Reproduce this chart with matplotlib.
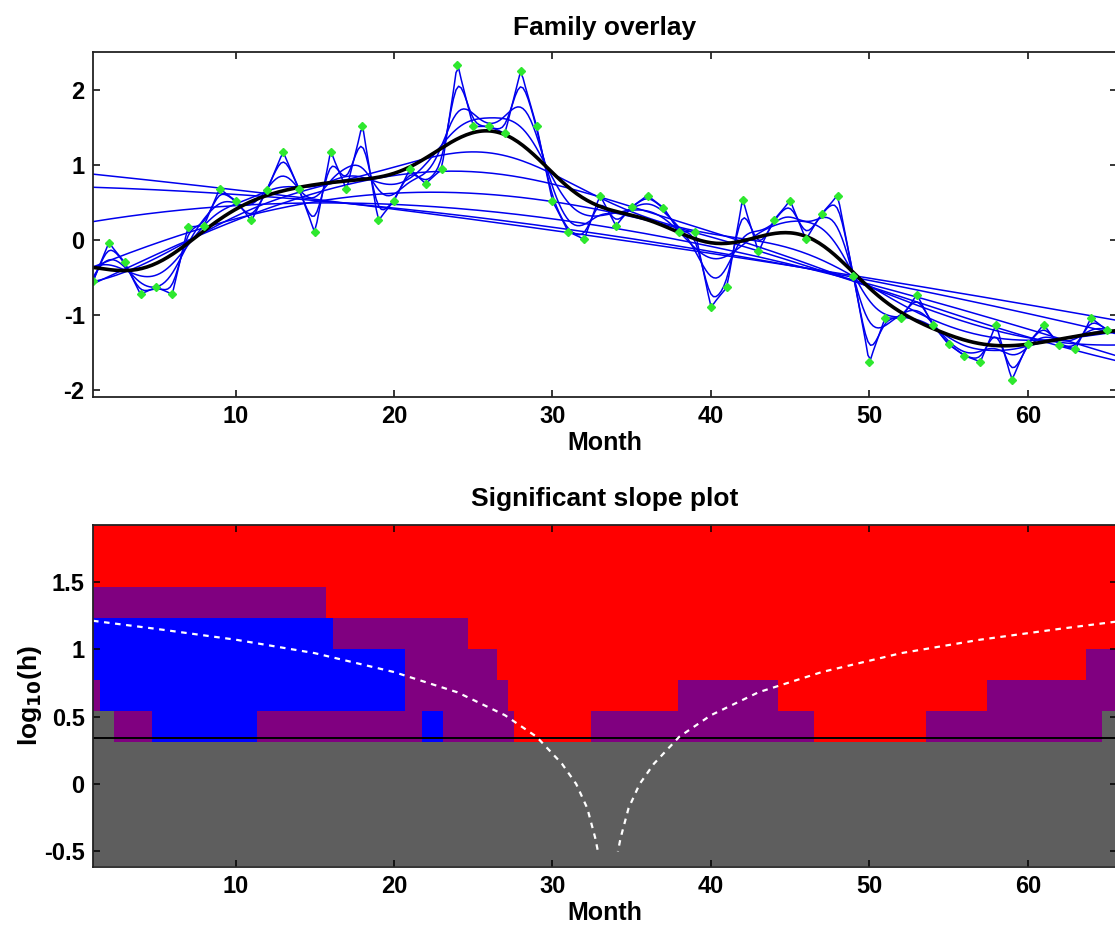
import numpy as np
import matplotlib
matplotlib.use('Agg')
import matplotlib.pyplot as plt

plt.rcParams['font.family'] = ['Liberation Sans', 'DejaVu Sans']
plt.rcParams['font.weight'] = 'bold'
plt.rcParams['axes.unicode_minus'] = False

# data
months = np.arange(1, 67)
values = [-0.55, -0.04, -0.30, -0.72, -0.63, -0.72, 0.17, 0.19, 0.68, 0.52,
          0.26, 0.67, 1.17, 0.68, 0.10, 1.17, 0.68, 1.52, 0.26, 0.52,
          0.94, 0.75, 0.94, 2.33, 1.51, 1.51, 1.42, 2.25, 1.51, 0.52,
          0.11, 0.01, 0.59, 0.19, 0.44, 0.59, 0.43, 0.11, 0.11, -0.89,
          -0.63, 0.53, -0.15, 0.27, 0.52, 0.01, 0.35, 0.59, -0.48, -1.62,
          -1.04, -1.04, -0.73, -1.13, -1.39, -1.54, -1.62, -1.13, -1.86, -1.38,
          -1.13, -1.40, -1.45, -1.04, -1.20, -1.28]

# bandwidth family (log10 h), one row of the slope map per bandwidth
log_h = [-0.495, -0.265, -0.035, 0.195, 0.425, 0.655, 0.885, 1.115, 1.345, 1.575, 1.805]
highlight = 0.425
h_min_line = 0.34

# slope map segments per bandwidth row: (from month, to month, class)
segments = {
    -0.495: [(1, 66, 'sparse')],
    -0.265: [(1, 66, 'sparse')],
    -0.035: [(1, 66, 'sparse')],
    0.195: [(1, 66, 'sparse')],
    0.425: [(1, 2.3, 'sparse'), (2.3, 4.7, 'ns'), (4.7, 11.35, 'inc'), (11.35, 21.75, 'ns'),
            (21.75, 23.1, 'inc'), (23.1, 27.55, 'ns'), (27.55, 32.45, 'dec'), (32.45, 46.5, 'ns'),
            (46.5, 53.6, 'dec'), (53.6, 64.7, 'ns'), (64.7, 66, 'sparse')],
    0.655: [(1, 1.45, 'ns'), (1.45, 20.7, 'inc'), (20.7, 27.2, 'ns'), (27.2, 37.95, 'dec'),
            (37.95, 44.25, 'ns'), (44.25, 57.4, 'dec'), (57.4, 66, 'ns')],
    0.885: [(1, 20.7, 'inc'), (20.7, 26.5, 'ns'), (26.5, 63.7, 'dec'), (63.7, 66, 'ns')],
    1.115: [(1, 16.15, 'inc'), (16.15, 24.7, 'ns'), (24.7, 66, 'dec')],
    1.345: [(1, 15.7, 'ns'), (15.7, 66, 'dec')],
    1.575: [(1, 66, 'dec')],
    1.805: [(1, 66, 'dec')],
}
class_colors = {'inc': '#0000ff', 'dec': '#ff0000', 'ns': '#800080', 'sparse': '#5e5e5e'}

# effective window (centre +/- 2h)
win_left_x = [1.0, 5.0, 10.0, 15.0, 20.0, 24.0, 27.0, 29.0, 30.6, 31.5, 32.2, 32.7, 32.87]
win_right_x = [66.0, 62.0, 57.0, 52.0, 47.0, 43.0, 40.0, 38.0, 36.4, 35.5, 34.8, 34.3, 34.13]
win_y = [1.21, 1.15, 1.07, 0.97, 0.83, 0.68, 0.51, 0.35, 0.15, 0.0, -0.18, -0.40, -0.50]


def local_linear(x, y, grid, h):
    out = []
    for x0 in grid:
        d = x - x0
        w = np.exp(-0.5 * (d / h) ** 2)
        s0, s1, s2 = w.sum(), (w * d).sum(), (w * d * d).sum()
        t0, t1 = (w * y).sum(), (w * d * y).sum()
        out.append((s2 * t0 - s1 * t1) / (s0 * s2 - s1 * s1))
    return np.array(out)


x = months.astype(float)
y = np.array(values)
grid = np.linspace(1, 66, 401)

fig = plt.figure(figsize=(11.15, 9.25), dpi=100)
W, H = 1115.0, 925.0
left = 93 / W
width = (1116.5 - 93) / W
ax1 = fig.add_axes([left, 1 - 397 / H, width, (397 - 52) / H])
ax2 = fig.add_axes([left, 1 - 867 / H, width, (867 - 525) / H])

# family overlay
for lh in log_h:
    ax1.plot(grid, local_linear(x, y, grid, 10 ** lh), color='#0000ee', lw=1.1)
ax1.plot(grid, local_linear(x, y, grid, 10 ** highlight), color='black', lw=2.6)
ax1.plot(months, values, ls='none', marker='D', ms=4.5, color='#2ee82e', mec='#2ee82e')
ax1.set_xlim(1, 65.6)
ax1.set_ylim(-2.09, 2.5)
ax1.set_yticks([-2, -1, 0, 1, 2])
ax1.set_title('Family overlay', fontsize=19, fontweight='bold', pad=12)

# significant slope map
step = log_h[1] - log_h[0]
for lh in log_h:
    for a, b, c in segments[lh]:
        ax2.broken_barh([(a, b - a)], (lh - step / 2, step), facecolors=class_colors[c],
                        edgecolor='none')
ax2.axhline(h_min_line, color='black', lw=1.4)
ax2.plot(win_left_x, win_y, color='white', ls=(0, (2.5, 2.5)), lw=1.6)
ax2.plot(win_right_x, win_y, color='white', ls=(0, (2.5, 2.5)), lw=1.6)
ax2.set_xlim(1, 65.6)
ax2.set_ylim(-0.615, 1.92)
ax2.set_yticks([-0.5, 0, 0.5, 1, 1.5])
ax2.set_yticklabels(['-0.5', '0', '0.5', '1', '1.5'])
ax2.set_ylabel('log$_{\\mathbf{10}}$(h)', fontsize=19, fontweight='bold', labelpad=0)
ax2.set_title('Significant slope plot', fontsize=19, fontweight='bold', pad=14)

for ax in (ax1, ax2):
    ax.set_xticks([10, 20, 30, 40, 50, 60])
    ax.set_xlabel('Month', fontsize=18, fontweight='bold', labelpad=2)
    ax.tick_params(direction='in', top=True, right=True, length=5, width=1.1,
                   labelsize=17, pad=6)
    for lab in ax.get_xticklabels() + ax.get_yticklabels():
        lab.set_fontweight('bold')
    for sp in ax.spines.values():
        sp.set_linewidth(1.3)
        sp.set_color('#222222')

fig.savefig('out.png', dpi=100)
